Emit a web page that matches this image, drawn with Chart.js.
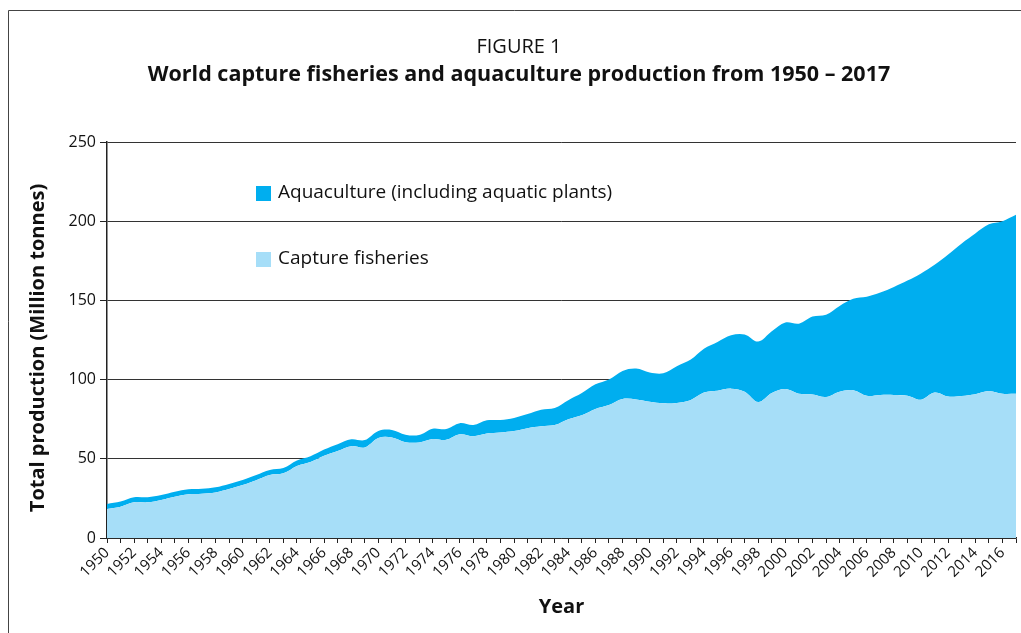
<!DOCTYPE html>
<html>
<head>
<meta charset="utf-8">
<script src="https://cdn.jsdelivr.net/npm/chart.js@4.4.1/dist/chart.umd.min.js"></script>
<style>
  html, body { margin: 0; padding: 0; background: #fff; }
  #wrap { width: 1021px; height: 633px; }
</style>
</head>
<body>
<div id="wrap"><canvas id="fishChart" width="1021" height="633"></canvas></div>
<script>
// years 1950 - 2017
const years = [];
for (let y = 1950; y <= 2017; y++) years.push(String(y));

// million tonnes
const captureFisheries = [
    18.3, 19.8, 22.5, 22.5, 24.0, 26.0, 27.6, 28.0, 28.8, 30.9,
    33.4, 36.5, 39.8, 40.8, 45.5, 48.0, 52.0, 55.0, 58.0, 57.2,
    63.2, 63.5, 60.5, 60.3, 62.5, 62.0, 65.5, 64.3, 66.0, 66.6,
    67.5, 69.3, 70.5, 71.3, 75.0, 77.5, 81.5, 84.0, 87.8, 87.5,
    86.0, 85.0, 85.3, 87.0, 91.8, 93.0, 94.3, 92.3, 85.8, 91.5,
    94.0, 91.0, 90.6, 89.0, 92.3, 93.3, 89.8, 90.3, 90.3, 89.8,
    87.3, 91.8, 89.3, 89.7, 90.8, 92.8, 91.0, 91.0
];
const aquaculture = [
    3.2, 3.2, 3.2, 3.2, 3.1, 3.2, 3.2, 3.1, 3.2, 3.2,
    3.2, 3.3, 3.2, 3.4, 3.5, 3.6, 3.8, 4.2, 4.3, 4.6,
    4.4, 4.7, 4.7, 4.7, 6.5, 6.8, 7.0, 7.0, 8.3, 7.9,
    8.3, 9.0, 10.5, 10.7, 12.0, 14.0, 15.5, 16.0, 17.7, 19.5,
    18.5, 19.0, 23.2, 25.5, 27.7, 30.8, 33.7, 36.2, 38.2, 39.0,
    42.0, 44.3, 49.2, 52.0, 54.2, 57.7, 62.5, 64.7, 68.2, 72.7,
    79.7, 80.7, 89.7, 96.3, 101.5, 105.2, 109.0, 113.0
];
const yTicks = [0, 50, 100, 150, 200, 250];

const aquaColor = '#00aeef';
const captureColor = '#a6def8';
const fontFamily = '"Open Sans", "Noto Sans", sans-serif';

// frame, titles and legend drawn on the canvas
const decorPlugin = {
    id: 'decor',
    beforeDraw(chart) {
        const c = chart.ctx;
        c.save();
        c.strokeStyle = '#444';
        c.lineWidth = 1;
        c.beginPath();
        c.moveTo(8.5, 633);
        c.lineTo(8.5, 10.5);
        c.lineTo(1021, 10.5);
        c.stroke();
        c.restore();
    },
    afterDraw(chart) {
        const c = chart.ctx;
        c.save();
        c.fillStyle = '#111';
        c.textAlign = 'center';
        c.textBaseline = 'middle';
        c.font = '20px ' + fontFamily;
        c.fillText('FIGURE 1', 519, 47);
        c.font = 'bold 21.5px ' + fontFamily;
        c.fillText('World capture fisheries and aquaculture production from 1950 \u2013 2017', 519, 75);

        // y axis title, a bit below the axis centre like the original
        c.save();
        c.translate(38, 348);
        c.rotate(-Math.PI / 2);
        c.font = 'bold 20px ' + fontFamily;
        c.fillText('Total production (Million tonnes)', 0, 0);
        c.restore();

        // legend
        const items = [
            { label: 'Aquaculture (including aquatic plants)', color: aquaColor, y: 193 },
            { label: 'Capture fisheries', color: captureColor, y: 259 }
        ];
        c.textAlign = 'left';
        c.font = '19px ' + fontFamily;
        items.forEach(it => {
            c.fillStyle = it.color;
            c.fillRect(256, it.y - 7, 15, 15);
            c.fillStyle = '#111';
            c.fillText(it.label, 278, it.y);
        });
        c.restore();
    }
};

new Chart(document.getElementById('fishChart'), {
    type: 'line',
    data: {
        labels: years,
        datasets: [
            {
                label: 'Capture fisheries',
                data: captureFisheries,
                backgroundColor: captureColor,
                borderWidth: 0,
                pointRadius: 0,
                tension: 0.35,
                fill: 'origin'
            },
            {
                label: 'Aquaculture (including aquatic plants)',
                data: aquaculture,
                backgroundColor: aquaColor,
                borderWidth: 0,
                pointRadius: 0,
                tension: 0.35,
                fill: '-1'
            }
        ]
    },
    options: {
        responsive: false,
        animation: false,
        layout: { padding: { left: 10, right: 5, top: 142, bottom: 0 } },
        plugins: {
            legend: { display: false },
            title: { display: false },
            tooltip: { enabled: false }
        },
        scales: {
            x: {
                offset: false,
                afterFit(scale) {
                    scale.height = 95;
                    scale.paddingLeft = 0;
                    scale.paddingRight = 0;
                },
                grid: {
                    drawOnChartArea: false,
                    drawTicks: true,
                    tickLength: 5,
                    tickColor: '#222'
                },
                border: { color: '#222', width: 1.5 },
                ticks: {
                    autoSkip: false,
                    minRotation: 45,
                    maxRotation: 45,
                    padding: 1,
                    color: '#111',
                    font: { family: fontFamily, size: 15 },
                    callback(value, index) {
                        return index % 2 === 0 ? years[index] : '';
                    }
                },
                title: {
                    display: true,
                    text: 'Year',
                    color: '#111',
                    padding: { top: 0, bottom: 14 },
                    font: { family: fontFamily, size: 20, weight: 'bold' }
                }
            },
            y: {
                stacked: true,
                min: 0,
                max: 250,
                afterFit(scale) { scale.width = 97; },
                afterBuildTicks(scale) {
                    scale.ticks = yTicks.map(v => ({ value: v }));
                },
                grid: {
                    color: '#333',
                    lineWidth: 1,
                    tickLength: 7,
                    tickColor: '#222'
                },
                border: { color: '#222', width: 1.5 },
                ticks: {
                    padding: 4,
                    color: '#111',
                    font: { family: fontFamily, size: 16 }
                },
                title: { display: false }
            }
        }
    },
    plugins: [decorPlugin]
});
</script>
</body>
</html>
